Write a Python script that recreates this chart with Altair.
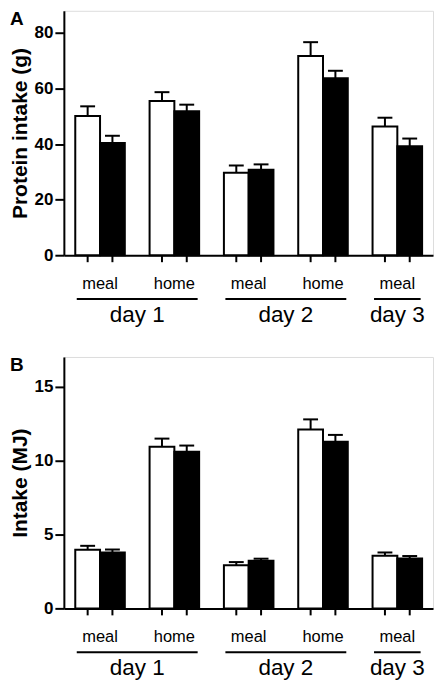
import altair as alt
import pandas as pd

FONT = "Liberation Sans"

groups = ["meal", "home", "meal", "home", "meal"]
days = ["day 1", "day 1", "day 2", "day 2", "day 3"]

protein_white = [50.1, 55.5, 29.7, 71.7, 46.3]
protein_white_upper = [53.6, 58.7, 32.3, 76.7, 49.5]
protein_black = [40.4, 51.8, 30.8, 63.7, 39.2]
protein_black_upper = [43.0, 54.2, 32.7, 66.4, 42.0]

energy_white = [3.96, 10.93, 2.91, 12.09, 3.56]
energy_white_upper = [4.23, 11.48, 3.13, 12.78, 3.78]
energy_black = [3.78, 10.59, 3.22, 11.26, 3.38]
energy_black_upper = [3.98, 11.01, 3.36, 11.73, 3.54]

protein_ticks = [0, 20, 40, 60, 80]
energy_ticks = [0, 5, 10, 15]

W = 370
X_DOMAIN = [-0.46, 14.44]


def build_frames(white, white_up, black, black_up):
    rows = []
    for g in range(len(groups)):
        for s, (vals, ups, fill) in enumerate(
            [(white, white_up, "white"), (black, black_up, "black")]
        ):
            slot = 3 * g + s
            rows.append(
                dict(
                    x0=slot,
                    x1=slot + 1,
                    xc=slot + 0.5,
                    cap0=slot + 0.2,
                    cap1=slot + 0.8,
                    value=vals[g],
                    upper=ups[g],
                    fill=fill,
                    day=days[g],
                )
            )
    bars = pd.DataFrame(rows)
    glab = pd.DataFrame(
        {"gc": [3 * g + 1 for g in range(len(groups))], "label": groups}
    )
    drows = []
    for d in dict.fromkeys(days):
        sub = bars[bars.day == d]
        start = sub.x0.min() + 0.06
        end = sub.x1.max() - 0.06
        drows.append(dict(day=d, start=start, end=end, center=(start + end) / 2))
    dayf = pd.DataFrame(drows)
    return bars, glab, dayf


def panel(letter, title, white, white_up, black, black_up, dmax, ticks, H):
    bars, glab, dayf = build_frames(white, white_up, black, black_up)
    xs = alt.Scale(domain=X_DOMAIN, nice=False, zero=False)
    ys = alt.Scale(domain=[0, dmax], nice=False, zero=True)
    xaxis = alt.Axis(
        labels=False, ticks=False, grid=False, title=None,
        domainWidth=2, domainColor="black",
    )
    yaxis = alt.Axis(
        values=ticks, tickSize=9, tickWidth=2, tickColor="black",
        domainWidth=2, domainColor="black", grid=False,
        labelFont=FONT, labelFontSize=17, labelFontWeight="bold",
        labelColor="black", labelPadding=2,
        title=title, titleFont=FONT, titleFontSize=21, titleFontWeight="bold",
        titleColor="black", titlePadding=4,
    )
    base = alt.Chart(bars)
    bar = base.mark_bar(stroke="black", strokeWidth=2).encode(
        x=alt.X("x0:Q", scale=xs, axis=xaxis),
        x2="x1:Q",
        y=alt.Y("value:Q", scale=ys, axis=yaxis),
        y2=alt.datum(0),
        fill=alt.Fill("fill:N", scale=None),
    )
    err = base.mark_rule(color="black", strokeWidth=2).encode(
        x="xc:Q", y="value:Q", y2="upper:Q"
    )
    cap = base.mark_rule(color="black", strokeWidth=2).encode(
        x="cap0:Q", x2="cap1:Q", y="upper:Q"
    )
    tick = base.mark_rule(color="black", strokeWidth=2).encode(
        x="xc:Q", y=alt.value(H), y2=alt.value(H + 7)
    )
    gl = alt.Chart(glab).mark_text(
        font=FONT, fontSize=16.5, baseline="alphabetic", color="black"
    ).encode(x="gc:Q", y=alt.value(H + 34), text="label:N")
    ul = alt.Chart(dayf).mark_rule(color="black", strokeWidth=2).encode(
        x="start:Q", x2="end:Q", y=alt.value(H + 44)
    )
    dl = alt.Chart(dayf).mark_text(
        font=FONT, fontSize=22.5, baseline="alphabetic", color="black"
    ).encode(x="center:Q", y=alt.value(H + 67), text="day:N")
    lt = alt.Chart(pd.DataFrame({"t": [letter]})).mark_text(
        font=FONT, fontSize=19, fontWeight="bold", align="left",
        baseline="alphabetic", color="black",
    ).encode(x=alt.value(-54), y=alt.value(14), text="t:N")
    return alt.layer(bar, err, cap, tick, gl, ul, dl, lt).properties(
        width=W, height=H
    )


A = panel("A", "Protein intake (g)", protein_white, protein_white_upper,
          protein_black, protein_black_upper, 88, protein_ticks, 245)
B = panel("B", "Intake (MJ)", energy_white, energy_white_upper,
          energy_black, energy_black_upper, 17, energy_ticks, 252)

chart = (
    alt.vconcat(A, B, spacing=28)
    .properties(padding={"left": 0, "top": 0, "right": 0, "bottom": 0})
    .configure_view(stroke=None)
    .configure(background="white")
)

chart.save("out.html", embed_options={"renderer": "svg", "actions": False})
